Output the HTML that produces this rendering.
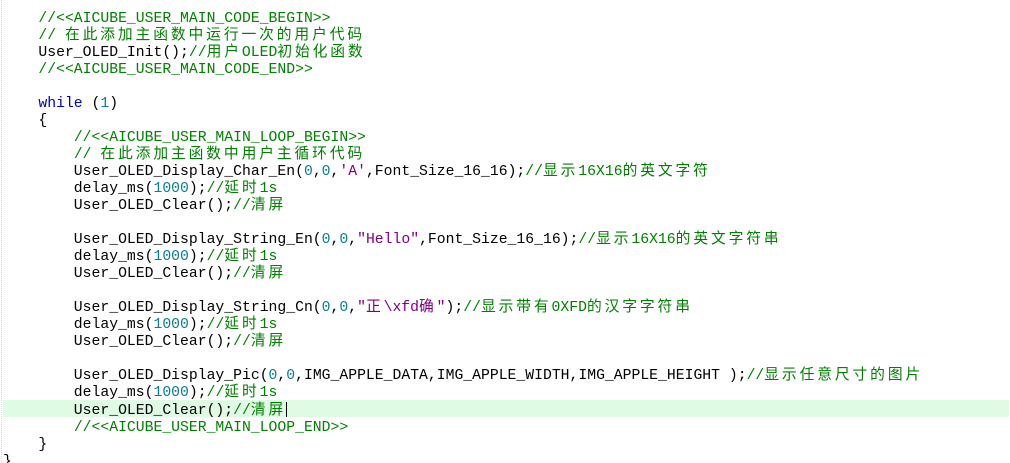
<!DOCTYPE html>
<html><head><meta charset="utf-8"><style>
html,body{margin:0;padding:0;background:#fff;width:1010px;height:463px;overflow:hidden;position:relative}
.gut{position:absolute;left:1px;top:0;width:0;height:463px;border-left:1px dotted #d8d8d8}
.hl{position:absolute;left:3px;top:400px;width:1006px;height:17px;background:#e0fbe4}
pre{position:absolute;left:3px;top:11px;margin:0;font-family:"Liberation Mono","Noto Sans CJK SC",monospace;font-size:14.75px;line-height:17px;color:#000;white-space:pre}
.c{color:#008000}
.n{color:#0a7f8f}
.s{color:#800080}
.k{color:#0000c8}
i{font-style:normal;letter-spacing:2.9px}
.cur{display:inline-block;width:1px;height:15px;background:#000;vertical-align:-3px}
</style></head><body>
<div class="gut"></div>
<div class="hl"></div>
<pre>    <span class="c">//&lt;&lt;AICUBE_USER_MAIN_CODE_BEGIN&gt;&gt;</span>
    <span class="c">// <i>在此添加主函数中运行一次的用户代码</i></span>
    User_OLED_Init();<span class="c">//<i>用户</i>OLED<i>初始化函数</i></span>
    <span class="c">//&lt;&lt;AICUBE_USER_MAIN_CODE_END&gt;&gt;</span>

    <span class="k">while</span> (<span class="n">1</span>)
    {
        <span class="c">//&lt;&lt;AICUBE_USER_MAIN_LOOP_BEGIN&gt;&gt;</span>
        <span class="c">// <i>在此添加主函数中用户主循环代码</i></span>
        User_OLED_Display_Char_En(<span class="n">0</span>,<span class="n">0</span>,<span class="s">'A'</span>,Font_Size_16_16);<span class="c">//<i>显示</i>16X16<i>的英文字符</i></span>
        delay_ms(<span class="n">1000</span>);<span class="c">//<i>延时</i>1s</span>
        User_OLED_Clear();<span class="c">//<i>清屏</i></span>

        User_OLED_Display_String_En(<span class="n">0</span>,<span class="n">0</span>,<span class="s">"Hello"</span>,Font_Size_16_16);<span class="c">//<i>显示</i>16X16<i>的英文字符串</i></span>
        delay_ms(<span class="n">1000</span>);<span class="c">//<i>延时</i>1s</span>
        User_OLED_Clear();<span class="c">//<i>清屏</i></span>

        User_OLED_Display_String_Cn(<span class="n">0</span>,<span class="n">0</span>,<span class="s">"<i>正</i>\xfd<i>确</i>"</span>);<span class="c">//<i>显示带有</i>0XFD<i>的汉字字符串</i></span>
        delay_ms(<span class="n">1000</span>);<span class="c">//<i>延时</i>1s</span>
        User_OLED_Clear();<span class="c">//<i>清屏</i></span>

        User_OLED_Display_Pic(<span class="n">0</span>,<span class="n">0</span>,IMG_APPLE_DATA,IMG_APPLE_WIDTH,IMG_APPLE_HEIGHT );<span class="c">//<i>显示任意尺寸的图片</i></span>
        delay_ms(<span class="n">1000</span>);<span class="c">//<i>延时</i>1s</span>
        User_OLED_Clear();<span class="c">//<i>清屏</i></span><span class="cur"></span>
        <span class="c">//&lt;&lt;AICUBE_USER_MAIN_LOOP_END&gt;&gt;</span>
    }
}</pre>
</body></html>
